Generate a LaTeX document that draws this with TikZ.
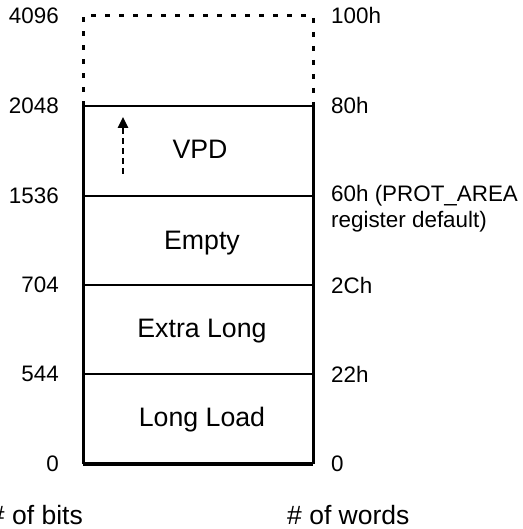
\documentclass[tikz,border=0pt]{standalone}
\usepackage{fontspec}
\setmainfont{Liberation Sans}
\usetikzlibrary{arrows.meta}

\tikzset{
	lbl/.style={inner sep=0pt,font=\fontsize{22.4}{26}\selectfont},
	area/.style={inner sep=0pt,font=\fontsize{26.7}{30}\selectfont,text height=19pt,text depth=0pt},
	spare/.style={line width=3pt,dash pattern=on 5pt off 9pt},
}

\begin{document}
\begin{tikzpicture}[x=1pt,y=1pt]
	\useasboundingbox (0,0) rectangle (522,529);
	% corners of the memory map
	\coordinate (bl) at (83,65);
	\coordinate (br) at (313,65);
	\coordinate (tl) at (83,423);
	\coordinate (tr) at (313,423);
	\coordinate (ttl) at (83,513);
	\coordinate (ttr) at (313,513);
	
	\draw[spare] (tl) -- (ttl) -- (ttr) -- (tr);
	\draw[line width=3pt] (tr) -- (br);
	\draw[line width=3pt] (tl) -- (bl);
	\draw[line width=4pt] (bl) -- (br);
	\draw[line width=2.5pt] (tl) -- (tr);
	\draw[line width=2.5pt] (83,333) -- (313,333);
	\draw[line width=1.5pt] (83,244) -- (313,244);
	\draw[line width=2.5pt] (83,155) -- (313,155);
	
	% address labels
	\foreach \lev/\y/\bits/\words in {a/65/0/0,b/155/544/22h,c/244/704/2Ch,e/423/2048/80h,f/513/4096/100h}{
		\node[lbl,anchor=east] (bits-\lev) at (59,\y) {\bits};
		\node[lbl,anchor=west] (words-\lev) at (331,\y) {\words};
	}
	\node[lbl,anchor=east] (bits-d) at (59,333) {1536};
	\node[lbl,anchor=west,align=left] (words-d) at (331,320) {60h (PROT\_AREA\\register default)};
	
	% areas
	\node[area] (vpd) at (200,380) {VPD};
	\node[area] (empty) at (202,289) {Empty};
	\node[area] (extra) at (202,201) {Extra Long};
	\node[area] (long) at (202,112) {Long Load};
	
	\coordinate (grow) at (123,355);
	\draw[line width=2.5pt,dash pattern=on 6pt off 4pt,-{Triangle[length=11pt,width=10pt]}] (grow) -- (123,412);
	
	\node[lbl,font=\fontsize{26.5}{30}\selectfont,anchor=east] (bitsunit) at (83,14) {\# of bits};
	\node[lbl,font=\fontsize{26.5}{30}\selectfont,anchor=west] (wordsunit) at (287,14) {\# of words};
\end{tikzpicture}
\end{document}
